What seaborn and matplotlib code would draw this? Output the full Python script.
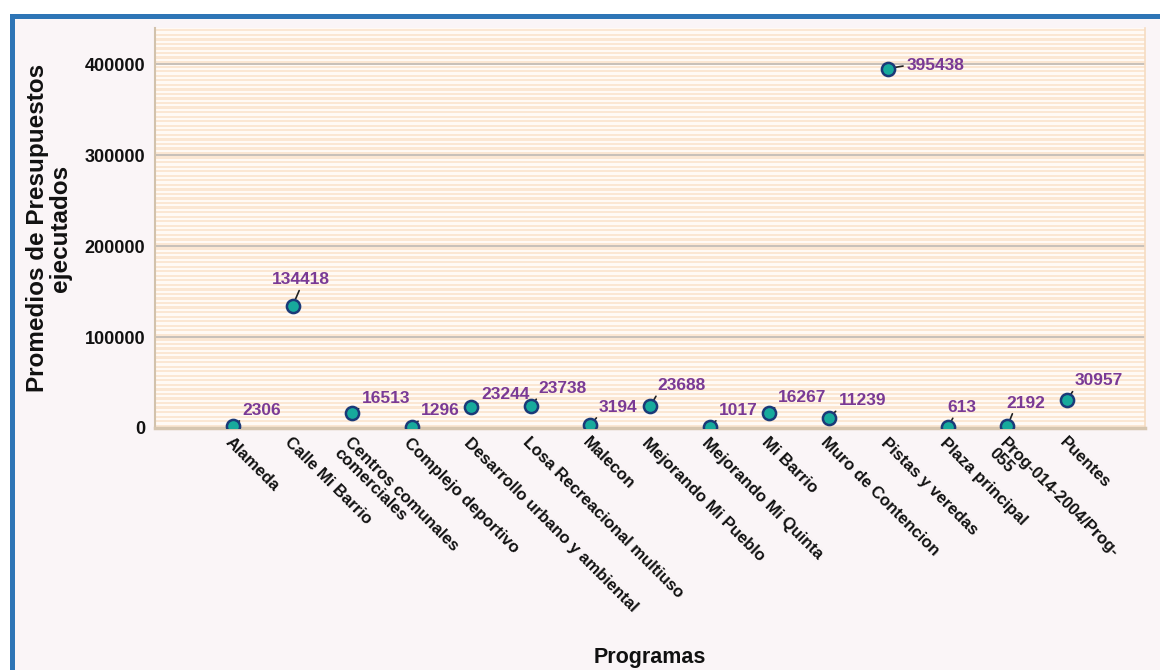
import matplotlib
matplotlib.use("Agg")
import matplotlib.pyplot as plt
import seaborn as sns
import pandas as pd
from matplotlib.patches import Rectangle

# ---- data ----
programs = [
    "Alameda", "Calle Mi Barrio", "Centros comunales\ncomerciales",
    "Complejo deportivo", "Desarrollo urbano y ambiental",
    "Losa Recreacional multiuso", "Malecon", "Mejorando Mi Pueblo",
    "Mejorando Mi Quinta", "Mi Barrio", "Muro de Contencion",
    "Pistas y veredas", "Plaza principal", "Prog-014-2004/Prog-\n055", "Puentes",
]
values = [2306, 134418, 16513, 1296, 23244, 23738, 3194, 23688, 1017,
          16267, 11239, 395438, 613, 2192, 30957]
y_ticks = [0, 100000, 200000, 300000, 400000]
y_tick_labels = ["0", "100000", "200000", "300000", "400000"]

# label placement (pixel offsets from marker) and leader anchor
label_offsets = [(29, 15), (8, 26), (34, 14), (29, 16), (34, 12), (32, 18),
                 (28, 18), (32, 21), (29, 17), (33, 16), (34, 17), (47, 3),
                 (14, 20), (18, 23), (32, 19)]
label_relpos = [(0, 0), (0.5, 0), (0, 0), (0, 0), (0, 0), (0, 0), (0, 0),
                (0, 0), (0, 0), (0, 0), (0, 0), (0, 0.5), (0.25, 0),
                (0.2, 0), (0, 0)]

sns.set_theme(style="white")
plt.rcParams["font.family"] = ["Liberation Sans", "DejaVu Sans"]

W, H = 1160, 670
fig = plt.figure(figsize=(W / 100, H / 100), dpi=100)
fig.patch.set_facecolor("white")
frame = Rectangle((11.5 / W, -0.05), 1.2, 1 - 16 / H + 0.05,
                  transform=fig.transFigure, facecolor="#FAF5F7",
                  edgecolor="#2E75B6", lw=3.6, zorder=-10)
fig.patches.append(frame)

ax = fig.add_axes([155 / W, 1 - 428 / H, 990 / W, 400 / H])
ax.set_zorder(1)
ax.set_facecolor("#FFFAF5")
for y0 in range(0, 440000, 5000):
    ax.axhspan(y0 + 1250, y0 + 3750, color="#FBE7D3", lw=0, zorder=0)

df = pd.DataFrame({"Programa": programs, "Promedio": values})
sns.scatterplot(data=df, x="Programa", y="Promedio", ax=ax, s=90,
                color="#17AA9C", edgecolor="#1B3A78", linewidth=1.8,
                zorder=3, legend=False)

ax.set_xlim(-1.31, 15.31)
ax.set_ylim(0, 440000)
ax.set_yticks(y_ticks)
ax.set_yticklabels(y_tick_labels, fontsize=13, fontweight="bold",
                   color="#111111")
ax.set_xticks(range(len(programs)))
ax.set_xticklabels(programs, rotation=-45, ha="left", va="top",
                   rotation_mode="anchor", fontsize=12, fontweight="bold",
                   color="#111111", linespacing=0.95)
ax.tick_params(axis="both", length=0)
ax.tick_params(axis="y", pad=7)
ax.tick_params(axis="x", pad=5)

ax.yaxis.grid(True, color="#BDB6AF", lw=1.2)
ax.set_axisbelow(True)

ax.spines["top"].set_visible(False)
ax.spines["left"].set_color("#D2C2AC")
ax.spines["left"].set_linewidth(1.5)
ax.spines["bottom"].set_color("#D6C6B0")
ax.spines["bottom"].set_linewidth(2.5)
ax.spines["right"].set_color("#F6DCC2")
ax.spines["right"].set_linewidth(1.2)

for i, v in enumerate(values):
    ax.annotate(f"{v}", xy=(i, v), xytext=label_offsets[i],
                textcoords="offset pixels", ha="center", va="center",
                color="#7A3A95", fontsize=12.5, fontweight="bold",
                annotation_clip=False, zorder=2,
                arrowprops=dict(arrowstyle="-", color="#222222", lw=1.2,
                                shrinkA=0, shrinkB=3, relpos=label_relpos[i]))

ax.set_xlabel("")
ax.set_ylabel("Promedios de Presupuestos\nejecutados", fontsize=17.5,
              fontweight="bold", color="#111111", linespacing=1.0)
ax.yaxis.set_label_coords(-0.084, 0.5)

fig.text(650 / W, 1 - 657 / H, "Programas", ha="center", va="center",
         fontsize=15.5, fontweight="bold", color="#111111")

fig.savefig("out.png", dpi=100)
